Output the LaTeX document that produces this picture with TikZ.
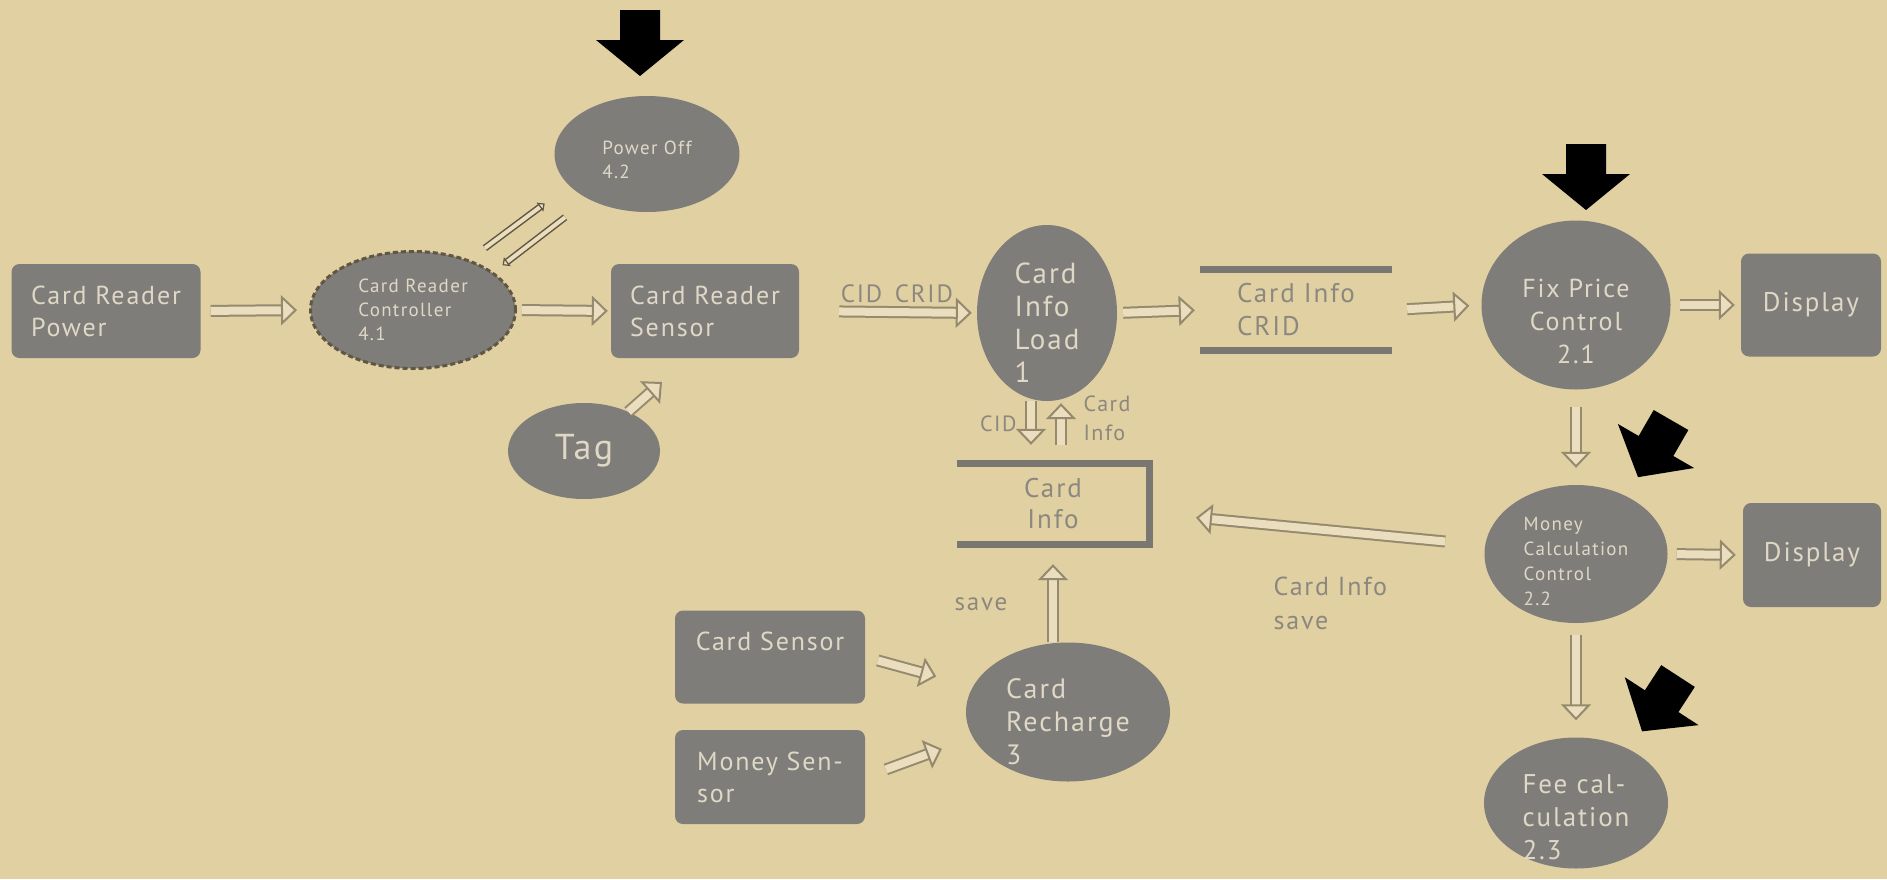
\documentclass[tikz,border=0pt]{standalone}
\usepackage{fontspec}
\setmainfont{PT Sans}[LetterSpace=7]
\usepackage{tikz}
\usetikzlibrary{positioning}
\usetikzlibrary{shapes.geometric}
\usetikzlibrary{arrows.meta}
\usetikzlibrary{calc}

\definecolor{bgtan}{RGB}{224,208,162}
\definecolor{nodegray}{RGB}{127,125,122}
\definecolor{nodetext}{RGB}{224,216,198}
\definecolor{labelgray}{RGB}{140,136,127}
\definecolor{arrowbrown}{RGB}{150,138,110}
\definecolor{arrowfill}{RGB}{234,222,190}
\definecolor{storegray}{RGB}{122,118,113}
\definecolor{ctrlbrown}{RGB}{96,86,66}

\tikzset{
  procbox/.style={rectangle, rounded corners=8pt, fill=nodegray, text=nodetext, inner sep=0pt, align=left},
  procell/.style={ellipse, fill=nodegray, text=nodetext, inner sep=0pt, align=left},
  celltxt/.style={text=nodetext, align=left, inner sep=0pt},
  storebox/.style={rectangle, inner sep=0pt, text=labelgray, align=left},
  bigtxt/.style={font=\fontsize{26}{32}\selectfont},
  smalltxt/.style={font=\fontsize{19}{24}\selectfont},
  lbltxt/.style={text=labelgray, font=\fontsize{25}{31}\selectfont},
  flow/.style={draw=arrowbrown, line width=2pt, double=arrowfill, double distance=8pt,
    -{Triangle[open, fill=arrowfill, length=16pt, width=30pt, line width=2pt]}},
  thinflow/.style={draw=ctrlbrown, line width=1.5pt, double=arrowfill, double distance=4pt,
    -{Triangle[open, fill=arrowfill, length=6pt, width=11pt, line width=1.2pt]}},
  storeline/.style={draw=storegray, line width=7pt},
  blackarrow/.pic={\fill[black] (-20,0) -- (20,0) -- (20,30) -- (44,30) -- (0,66) -- (-44,30) -- (-20,30) -- cycle;}
}

\begin{document}
\begin{tikzpicture}[x=1pt, y=-1pt]
  \fill[bgtan] (0,0) rectangle (1887,879);
  \useasboundingbox (0,0) rectangle (1887,879);

  % card reader part
  \node[procbox, bigtxt, minimum width=189pt, minimum height=94pt] (power) at (106,311) {Card Reader\\Power};
  \node[procell, smalltxt, minimum width=205pt, minimum height=117pt, draw=ctrlbrown, line width=3pt, dash pattern=on 5pt off 3pt] (ctrl) at (413,310) {Card Reader\\Controller\\4.1};
  \node[procbox, bigtxt, minimum width=188pt, minimum height=94pt] (sensor) at (705,311) {Card Reader\\Sensor};
  \node[procell, minimum width=185pt, minimum height=116pt,
    label={[celltxt, smalltxt, yshift=-6pt]center:{Power Off\\4.2}}] (off) at (647,154) {};
  \node[procell, font=\fontsize{36}{40}\selectfont, minimum width=152pt, minimum height=96pt] (tag) at (584,451) {Tag};
  \coordinate (tagtip) at (662,382);

  \draw[flow, shorten <=10pt, shorten >=12pt] (power.east) -- (ctrl.west);
  \draw[flow, shorten <=5pt, shorten >=3pt] (ctrl.east) -- (sensor.west);
  \draw[flow] (tag) -- (tagtip);
  \draw[thinflow] ($(ctrl)!0.32!(off)+(-3,-12)$) -- ($(ctrl)!0.58!(off)+(-4,-16)$);
  \draw[thinflow] ($(ctrl)!0.62!(off)+(7,4)$) -- ($(ctrl)!0.37!(off)+(3,13)$);

  % card info
  \node[procell, minimum width=140pt, minimum height=176pt,
    label={[celltxt, font=\fontsize{29}{33}\selectfont, yshift=-10pt]center:{Card\\Info\\Load\\1}}] (load) at (1047,313) {};
  \node[storebox, font=\fontsize{27}{33}\selectfont, minimum width=192pt, minimum height=81pt] (crid) at (1296,310) {Card Info\\CRID};
  \draw[storeline] (crid.north west) -- (crid.north east);
  \draw[storeline] (crid.south west) -- (crid.south east);
  \node[storebox, align=center, font=\fontsize{27}{31}\selectfont, minimum width=192pt, minimum height=80pt] (cardinfo) at (1053,504) {Card\\Info};
  \draw[storeline] (cardinfo.north west) -- (cardinfo.north east) -- (cardinfo.south east) -- (cardinfo.south west);

  \draw[flow, shorten <=40pt, shorten >=5pt] (sensor.east) -- (load.west) node[pos=0.55, above=5pt, lbltxt] {CID\enspace CRID};
  \draw[flow, shorten <=6pt, shorten >=5pt] (load.east) -- (crid.west);
  \draw[flow, shorten >=19pt] ([xshift=-16pt]load.south) -- ([xshift=-16pt]load.south |- cardinfo.north);
  \draw[flow, shorten <=19pt, shorten >=2pt] ([xshift=14pt]load.south |- cardinfo.north) -- ([xshift=14pt]load.south);
  \node[lbltxt, font=\fontsize{22}{29}\selectfont, anchor=east] (cidlbl) at (1020,424) {CID};
  \node[lbltxt, font=\fontsize{22}{29}\selectfont, anchor=west, align=left] (infolbl) at (1080,418) {Card\\Info};

  % price control
  \node[procell, minimum width=189pt, minimum height=169pt,
    label={[celltxt, align=center, font=\fontsize{26}{33}\selectfont, yshift=-16pt]center:{Fix Price\\Control\\2.1}}] (fix) at (1576,305) {};
  \node[procbox, font=\fontsize{27}{32}\selectfont, minimum width=140pt, minimum height=103pt] (disp1) at (1811,305) {Display};
  \node[procell, minimum width=183pt, minimum height=138pt,
    label={[celltxt, font=\fontsize{19}{25}\selectfont, yshift=-7pt]center:{Money\\Calculation\\Control\\2.2}}] (money) at (1576,554) {};
  \node[procbox, font=\fontsize{27}{32}\selectfont, minimum width=138pt, minimum height=104pt] (disp2) at (1812,555) {Display};
  \node[procell, minimum width=184pt, minimum height=131pt,
    label={[celltxt, font=\fontsize{27}{33}\selectfont, yshift=-14pt]center:{Fee cal-\\culation\\2.3}}] (fee) at (1576,803) {};

  \draw[flow, shorten <=15pt, shorten >=12pt] (crid.east) -- (fix.west);
  \draw[flow, shorten <=9pt, shorten >=6pt] (fix.east) -- (disp1.west);
  \draw[flow, shorten <=17pt, shorten >=17pt] (fix.south) -- (money.north);
  \draw[flow, shorten <=9pt, shorten >=7pt] (money.east) -- (disp2.west);
  \draw[flow, shorten <=12pt, shorten >=17pt] (money.south) -- (fee.north);
  \draw[flow, shorten <=40pt, shorten >=47pt] (money) -- (cardinfo);
  \node[lbltxt, font=\fontsize{26}{34}\selectfont, anchor=west, align=left] (savelbl) at (1270,603) {Card Info\\save};

  % recharge
  \node[procell, minimum width=204pt, minimum height=139pt,
    label={[celltxt, font=\fontsize{28}{33}\selectfont, yshift=-10pt]center:{Card\\Recharge\\3}}] (recharge) at (1068,712) {};
  \node[procbox, bigtxt, minimum width=190pt, minimum height=93pt] (csensor) at (770,657) {Card Sensor\\\mbox{}};
  \node[procbox, bigtxt, minimum width=190pt, minimum height=94pt] (msensor) at (770,777) {Money Sen-\\sor};

  \draw[flow, shorten >=20pt] (recharge.north -| cardinfo.south) -- (cardinfo.south);
  \node[lbltxt] (save) at (981,604) {save};
  \draw[flow, shorten <=13pt, shorten >=38pt] (csensor.east) -- (recharge.165);
  \draw[flow, shorten <=22pt, shorten >=33pt] (msensor.east) -- (recharge.195);

  % black pointers
  \pic at (640,10) {blackarrow};
  \pic at (1586,144) {blackarrow};
  \pic[rotate=-30] at (1671,420) {blackarrow};
  \pic[rotate=-33] at (1678,676) {blackarrow};
\end{tikzpicture}
\end{document}
